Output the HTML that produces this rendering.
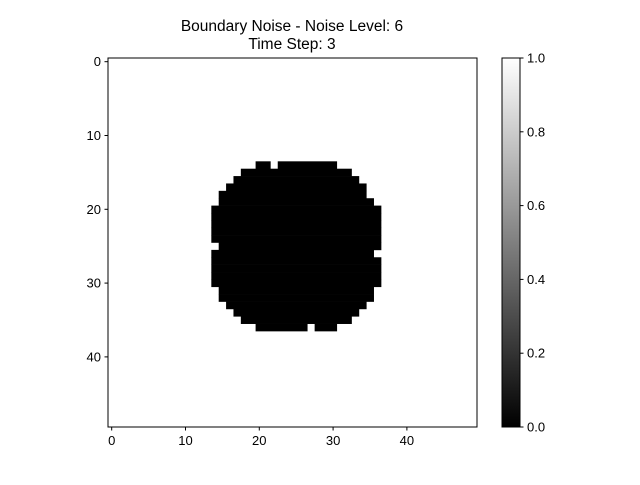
<!DOCTYPE html>
<html><head><meta charset="utf-8"><style>
body{margin:0;background:#fff}
svg text{font-family:"Liberation Sans","DejaVu Sans",sans-serif;font-size:13px;fill:#000}
</style></head><body>
<svg id="c" width="640" height="480" viewBox="0 0 640 480">
<defs><linearGradient id="g" x1="0" y1="1" x2="0" y2="0"><stop offset="0" stop-color="#000"/><stop offset="1" stop-color="#fff"/></linearGradient></defs>
<text x="292" y="31" text-anchor="middle" style="font-size:15.5px">Boundary Noise - Noise Level: 6</text>
<text x="292" y="49" text-anchor="middle" style="font-size:15.5px">Time Step: 3</text>
<g id="img"></g>
<rect x="108" y="58" width="369" height="369" fill="none" stroke="#000" stroke-width="1"/>
<g id="ax"></g>
<rect x="502" y="58" width="18" height="369" fill="url(#g)" stroke="#000" stroke-width="1"/>
<g id="cb"></g>
</svg>
<script>
// black runs per row: [row, startCol, endCol]
const blackRuns = [
[14,20,21],[14,23,30],[15,18,32],[16,17,33],[17,16,34],[18,15,34],[19,15,35],
[20,14,36],[21,14,36],[22,14,36],[23,14,36],[24,14,36],[25,15,36],[26,14,35],
[27,14,36],[28,14,36],[29,14,36],[30,14,36],[31,15,35],[32,15,35],[33,16,34],
[34,17,33],[35,18,32],[36,20,26],[36,28,30]];
const xTicks = [0,10,20,30,40];
const yTicks = [0,10,20,30,40];
const cbTicks = [0.0,0.2,0.4,0.6,0.8,1.0];
const NS="http://www.w3.org/2000/svg";
const X0=108,Y0=58,S=369/50;
const sx=c=>X0+(c+0.5)*S, sy=r=>Y0+(r+0.5)*S;
const cbY=v=>427-v*369;
function el(t,a,p){const e=document.createElementNS(NS,t);for(const k in a)e.setAttribute(k,a[k]);p.appendChild(e);return e;}
const img=document.getElementById('img'),ax=document.getElementById('ax'),cb=document.getElementById('cb');
blackRuns.forEach(r=>{
  const e=el('rect',{x:X0+r[1]*S,y:Y0+r[0]*S,width:(r[2]-r[1]+1)*S+0.3,height:S+0.3,fill:'#000'},img);
  
  
});
xTicks.forEach(v=>{
  const l=el('line',{x1:sx(v),x2:sx(v),y1:427,y2:430.5,stroke:'#000'},ax);
  
  
  const t=el('text',{x:sx(v),y:445,'text-anchor':'middle'},ax);t.textContent=v;
  
  
});
yTicks.forEach(v=>{
  const l=el('line',{x1:104.5,x2:108,y1:sy(v),y2:sy(v),stroke:'#000'},ax);
  
  
  const t=el('text',{x:101,y:sy(v)+4.5,'text-anchor':'end'},ax);t.textContent=v;
  
  
});
cbTicks.forEach(v=>{
  const l=el('line',{x1:520,x2:523.5,y1:cbY(v),y2:cbY(v),stroke:'#000'},cb);
  
  
  const t=el('text',{x:527,y:cbY(v)+4.5},cb);t.textContent=v.toFixed(1);
  
  
});
</script>
</body></html>
